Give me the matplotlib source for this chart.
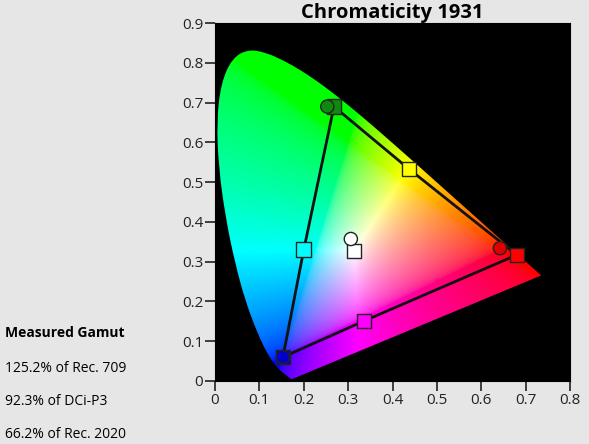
import numpy as np
import matplotlib
matplotlib.use('Agg')
import matplotlib.pyplot as plt
from matplotlib.path import Path
from matplotlib.patches import PathPatch

plt.rcParams['font.family'] = ['Open Sans', 'DejaVu Sans']

# CIE 1931 spectral locus (380-700 nm, 5 nm steps)
locus_x = [0.1741, 0.1740, 0.1738, 0.1736, 0.1733, 0.1730, 0.1726, 0.1721, 0.1714, 0.1703,
           0.1689, 0.1669, 0.1644, 0.1611, 0.1566, 0.1510, 0.1440, 0.1355, 0.1241, 0.1096,
           0.0913, 0.0687, 0.0454, 0.0235, 0.0082, 0.0039, 0.0139, 0.0389, 0.0743, 0.1142,
           0.1547, 0.1929, 0.2296, 0.2658, 0.3016, 0.3373, 0.3731, 0.4087, 0.4441, 0.4788,
           0.5125, 0.5448, 0.5752, 0.6029, 0.6270, 0.6482, 0.6658, 0.6801, 0.6915, 0.7006,
           0.7079, 0.7140, 0.7190, 0.7230, 0.7260, 0.7283, 0.7300, 0.7311, 0.7320, 0.7327,
           0.7334, 0.7340, 0.7344, 0.7346, 0.7347]
locus_y = [0.0050, 0.0050, 0.0049, 0.0049, 0.0048, 0.0048, 0.0048, 0.0048, 0.0051, 0.0058,
           0.0069, 0.0086, 0.0109, 0.0138, 0.0177, 0.0227, 0.0297, 0.0399, 0.0578, 0.0868,
           0.1327, 0.2007, 0.2950, 0.4127, 0.5384, 0.6548, 0.7502, 0.8120, 0.8338, 0.8262,
           0.8059, 0.7816, 0.7543, 0.7243, 0.6923, 0.6589, 0.6245, 0.5896, 0.5547, 0.5202,
           0.4866, 0.4544, 0.4242, 0.3965, 0.3725, 0.3514, 0.3340, 0.3197, 0.3083, 0.2993,
           0.2920, 0.2859, 0.2809, 0.2770, 0.2740, 0.2717, 0.2700, 0.2689, 0.2680, 0.2673,
           0.2666, 0.2660, 0.2656, 0.2654, 0.2653]

# target gamut: R, Y, G, C, B, M (closed loop), plus white
target_x = [0.680, 0.437, 0.268, 0.200, 0.153, 0.336, 0.680]
target_y = [0.317, 0.533, 0.690, 0.330, 0.060, 0.151, 0.317]
target_colors = ['#ff0000', '#ffff00', '#0f8a0f', '#00ffff', '#0000cc', '#ff00ff']
white_target = (0.313, 0.327)

# measured primaries + white
meas_x = [0.642, 0.253, 0.153, 0.306]
meas_y = [0.334, 0.690, 0.060, 0.357]
meas_colors = ['#e00000', '#0f8a0f', '#0000cc', '#ffffff']

gamut_title = 'Measured Gamut'
gamut_lines = ['125.2% of Rec. 709', '92.3% of DCi-P3', '66.2% of Rec. 2020']

bg = '#e6e6e6'
fig = plt.figure(figsize=(5.89, 4.44), dpi=100, facecolor=bg)
ax = fig.add_axes([0.365, 0.142, 0.603, 0.806])
ax.set_facecolor('black')

# colour fill of the horseshoe
gx, gy = np.meshgrid(np.linspace(0, 0.8, 500), np.linspace(0.001, 0.9, 560))
X = gx / gy
Y = np.ones_like(gx)
Z = (1 - gx - gy) / gy
r = 3.2406 * X - 1.5372 * Y - 0.4986 * Z
g = -0.9689 * X + 1.8758 * Y + 0.0415 * Z
b = 0.0557 * X - 0.2040 * Y + 1.0570 * Z
rgb = np.clip(np.dstack([r, g, b]), 0, None)
rgb = rgb / rgb.max(axis=2, keepdims=True).clip(1e-9)
rgb = rgb ** (1 / 2.2)
img = ax.imshow(rgb, origin='lower', extent=[0, 0.8, 0, 0.9], aspect='auto',
                interpolation='bilinear', zorder=1)

# smooth outline: data points as quadratic bezier controls
pts = np.column_stack([locus_x, locus_y])
verts = [pts[0]]
codes = [Path.MOVETO]
for i in range(1, len(pts) - 1):
    verts += [pts[i], (pts[i] + pts[i + 1]) / 2]
    codes += [Path.CURVE3, Path.CURVE3]
verts += [pts[-1], pts[0], pts[0]]
codes += [Path.LINETO, Path.LINETO, Path.CLOSEPOLY]
clip = PathPatch(Path(verts, codes), transform=ax.transData, facecolor='none', edgecolor='none')
ax.add_patch(clip)
img.set_clip_path(clip)

# gamut triangle
ax.plot(target_x, target_y, color='#111111', lw=2, zorder=3)
ax.scatter(target_x[:-1], target_y[:-1], marker='s', s=110, c=target_colors,
           edgecolors='#222222', linewidths=1, zorder=4)
ax.scatter(*white_target, marker='s', s=110, c='white', edgecolors='#222222',
           linewidths=1, zorder=4)
ax.scatter(meas_x, meas_y, marker='o', s=90, c=meas_colors, edgecolors='#222222',
           linewidths=1, zorder=5)

ax.set_xlim(0, 0.8)
ax.set_ylim(0, 0.9)
ax.set_xticks(np.arange(0, 0.81, 0.1))
ax.set_yticks(np.arange(0, 0.91, 0.1))
ax.set_xticklabels(['0'] + ['%.1f' % v for v in np.arange(0.1, 0.81, 0.1)])
ax.set_yticklabels(['0'] + ['%.1f' % v for v in np.arange(0.1, 0.91, 0.1)])
ax.tick_params(length=7, width=1.2, labelsize=11, colors='#222222', pad=1.5)
ax.set_title('Chromaticity 1931', fontsize=14.5, fontweight='bold', pad=2)

fig.text(0.008, 1 - 333 / 444, gamut_title, fontsize=10, fontweight='bold', va='center')
for i, line in enumerate(gamut_lines):
    fig.text(0.008, 1 - (369 + i * 32.5) / 444, line, fontsize=10, va='center')

plt.savefig('out.png', dpi=100, facecolor=bg)
